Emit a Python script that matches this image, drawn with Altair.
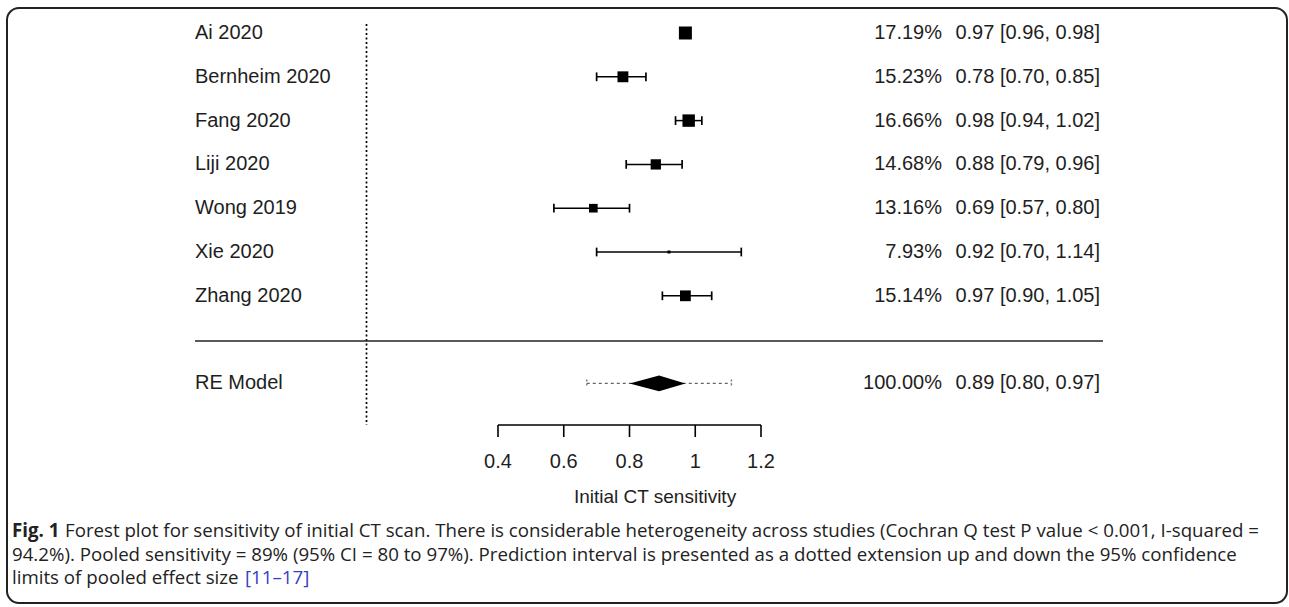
import altair as alt
import pandas as pd

# ---------------- data ----------------
studies = ["Ai 2020", "Bernheim 2020", "Fang 2020", "Liji 2020", "Wong 2019", "Xie 2020", "Zhang 2020"]
estimates = [0.97, 0.78, 0.98, 0.88, 0.69, 0.92, 0.97]
ci_lower = [0.96, 0.70, 0.94, 0.79, 0.57, 0.70, 0.90]
ci_upper = [0.98, 0.85, 1.02, 0.96, 0.80, 1.14, 1.05]
weights = [17.19, 15.23, 16.66, 14.68, 13.16, 7.93, 15.14]

pooled_label = ["RE Model"]
pooled_est = [0.89]
pooled_ci = [0.80, 0.97]
pooled_weight = [100.00]
prediction_interval = [0.67, 1.11]

reference_line = [0]
tick_values = [0.4, 0.6, 0.8, 1.0, 1.2]
tick_labels = ["0.4", "0.6", "0.8", "1", "1.2"]
x_title = ["Initial CT sensitivity"]

caption_bold = ["Fig. 1"]
caption_lines = [
    "Forest plot for sensitivity of initial CT scan. There is considerable heterogeneity across studies (Cochran Q test P value < 0.001, I-squared =",
    "94.2%). Pooled sensitivity = 89% (95% CI = 80 to 97%). Prediction interval is presented as a dotted extension up and down the 95% confidence",
    "limits of pooled effect size",
]
caption_ref = ["[11\u201317]"]

# ---------------- layout ----------------
W, H = 1280, 595
PX_PER_UNIT = 328.75
X0_PX = 498 - 7          # pixel of 0.4 inside plot area
XMIN = 0.4 - X0_PX / PX_PER_UNIT
XMAX = XMIN + W / PX_PER_UNIT
ROW_PX = 43.8
YMIN = -25 / ROW_PX
YMAX = YMIN + H / ROW_PX


def px(p):
    """convert a horizontal page pixel to x data units"""
    return 0.4 + (p - 498) / PX_PER_UNIT


def py(p):
    return (p - 33) / ROW_PX


xs = alt.Scale(domain=[XMIN, XMAX], nice=False, zero=False)
ys = alt.Scale(domain=[YMIN, YMAX], nice=False, zero=False, reverse=True)
X = lambda f: alt.X(f, type="quantitative", scale=xs, axis=None)
Y = lambda f: alt.Y(f, type="quantitative", scale=ys, axis=None)

TEXT_FONT = "Liberation Sans"
TEXT_SIZE = 20
TEXT_COLOR = "#1e1e1e"
CAP_FONT = "Open Sans"
CAP_SIZE = 18.7
CAP_COLOR = "#222"

n = len(studies)
wmin, wmax = min(weights), max(weights)
df = pd.DataFrame({
    "study": studies,
    "est": estimates,
    "lo": ci_lower,
    "hi": ci_upper,
    "w": weights,
    "row": list(range(n)),
})
df["side"] = 3 + (df["w"] - wmin) / (wmax - wmin) * 10
df["size"] = df["side"] ** 2
df["wtxt"] = [f"{w:.2f}%" for w in weights]
df["etxt"] = [f"{e:.2f} [{l:.2f}, {h:.2f}]" for e, l, h in zip(estimates, ci_lower, ci_upper)]
df["cap_lo"] = df["row"] - 0.1
df["cap_hi"] = df["row"] + 0.1

sep_row = py(341)
re_row = n + 1
axis_row = py(425)

layers = []

# reference dotted line
ref_df = pd.DataFrame({"x": reference_line, "y": [py(24)], "y2": [axis_row]})
layers.append(alt.Chart(ref_df).mark_rule(color="black", strokeWidth=1.7, strokeDash=[2, 2.5]).encode(
    x=X("x"), y=Y("y"), y2="y2"))

# separator line
sep_df = pd.DataFrame({"x": [px(195)], "x2": [px(1103)], "y": [sep_row]})
layers.append(alt.Chart(sep_df).mark_rule(color="#222", strokeWidth=1.6).encode(
    x=X("x"), x2="x2", y=Y("y")))

base = alt.Chart(df)
# CI lines
layers.append(base.mark_rule(color="black", strokeWidth=1.5).encode(x=X("lo"), x2="hi", y=Y("row")))
# caps
layers.append(base.mark_rule(color="black", strokeWidth=1.7).encode(x=X("lo"), y=Y("cap_lo"), y2="cap_hi"))
layers.append(base.mark_rule(color="black", strokeWidth=1.7).encode(x=X("hi"), y=Y("cap_lo"), y2="cap_hi"))
# squares
layers.append(base.mark_square(color="black", filled=True, opacity=1).encode(
    x=X("est"), y=Y("row"), size=alt.Size("size:Q", scale=None)))
# study labels
txt = dict(baseline="middle", font=TEXT_FONT, fontSize=TEXT_SIZE, color=TEXT_COLOR)
layers.append(base.transform_calculate(lx=str(px(195))).mark_text(align="left", **txt).encode(
    x=X("lx"), y=Y("row"), text="study:N"))
layers.append(base.transform_calculate(lx=str(px(942))).mark_text(align="right", **txt).encode(
    x=X("lx"), y=Y("row"), text="wtxt:N"))
layers.append(base.transform_calculate(lx=str(px(1100))).mark_text(align="right", **txt).encode(
    x=X("lx"), y=Y("row"), text="etxt:N"))

# pooled row
pdf = pd.DataFrame({
    "label": pooled_label, "est": pooled_est, "lo": [pooled_ci[0]], "hi": [pooled_ci[1]],
    "pil": [prediction_interval[0]], "pih": [prediction_interval[1]], "row": [re_row],
    "wtxt": [f"{pooled_weight[0]:.2f}%"],
    "etxt": [f"{pooled_est[0]:.2f} [{pooled_ci[0]:.2f}, {pooled_ci[1]:.2f}]"],
})
pdf["cap_lo"] = pdf["row"] - 0.09
pdf["cap_hi"] = pdf["row"] + 0.09
pbase = alt.Chart(pdf)
layers.append(pbase.mark_rule(color="#666", strokeWidth=1.4, strokeDash=[3, 3]).encode(
    x=X("pil"), x2="pih", y=Y("row")))
layers.append(pbase.mark_rule(color="#777", strokeWidth=1.4, strokeDash=[2, 2]).encode(
    x=X("pil"), y=Y("cap_lo"), y2="cap_hi"))
layers.append(pbase.mark_rule(color="#777", strokeWidth=1.4, strokeDash=[2, 2]).encode(
    x=X("pih"), y=Y("cap_lo"), y2="cap_hi"))
dia = pd.DataFrame({
    "x": [pooled_ci[0], pooled_est[0], pooled_ci[1]],
    "y": [re_row, re_row - 0.18, re_row],
    "y2": [re_row, re_row + 0.18, re_row],
})
layers.append(alt.Chart(dia).mark_area(color="black", opacity=1, orient="vertical").encode(
    x=X("x"), y=Y("y"), y2="y2"))
layers.append(pbase.transform_calculate(lx=str(px(195))).mark_text(align="left", **txt).encode(
    x=X("lx"), y=Y("row"), text="label:N"))
layers.append(pbase.transform_calculate(lx=str(px(942))).mark_text(align="right", **txt).encode(
    x=X("lx"), y=Y("row"), text="wtxt:N"))
layers.append(pbase.transform_calculate(lx=str(px(1100))).mark_text(align="right", **txt).encode(
    x=X("lx"), y=Y("row"), text="etxt:N"))

# x axis (drawn through the x scale)
ax_df = pd.DataFrame({"x": [tick_values[0]], "x2": [tick_values[-1]], "y": [axis_row]})
layers.append(alt.Chart(ax_df).mark_rule(color="black", strokeWidth=1.6).encode(
    x=X("x"), x2="x2", y=Y("y")))
tk = pd.DataFrame({"v": tick_values, "lab": tick_labels, "y": axis_row, "y2": py(437), "ly": py(462)})
layers.append(alt.Chart(tk).mark_rule(color="black", strokeWidth=1.6).encode(x=X("v"), y=Y("y"), y2="y2"))
layers.append(alt.Chart(tk).mark_text(align="center", **txt).encode(
    x=X("v"), y=Y("ly"), text="lab:N"))
tt = pd.DataFrame({"t": x_title, "x": [px(655)], "y": [py(497)]})
layers.append(alt.Chart(tt).mark_text(align="center", baseline="middle", font=TEXT_FONT,
                                      fontSize=19, color=TEXT_COLOR).encode(
    x=X("x"), y=Y("y"), text="t:N"))

# caption
cap = dict(baseline="middle", font=CAP_FONT, fontSize=CAP_SIZE, color=CAP_COLOR)
cap_rows = [py(531), py(555), py(578)]
cb = pd.DataFrame({"t": caption_bold, "x": [px(12)], "y": [cap_rows[0]]})
layers.append(alt.Chart(cb).mark_text(align="left", fontWeight="bold", **cap).encode(
    x=X("x"), y=Y("y"), text="t:N"))
cl = pd.DataFrame({"t": caption_lines, "x": [px(65), px(12), px(12)], "y": cap_rows})
layers.append(alt.Chart(cl).mark_text(align="left", **cap).encode(x=X("x"), y=Y("y"), text="t:N"))
cr = pd.DataFrame({"t": caption_ref, "x": [px(245)], "y": [cap_rows[2]]})
layers.append(alt.Chart(cr).mark_text(align="left", baseline="middle", font=CAP_FONT, fontSize=CAP_SIZE,
                                      color="#3340c8").encode(x=X("x"), y=Y("y"), text="t:N"))

chart = alt.layer(*layers).properties(
    width=W, height=H,
    autosize=alt.AutoSizeParams(type="none"),
    padding={"left": 7, "top": 8, "right": 2, "bottom": 4},
    background="white",
).configure_view(stroke="#222", strokeWidth=2, cornerRadius=12)

chart.save("out.html", embed_options={"renderer": "svg", "actions": False})
